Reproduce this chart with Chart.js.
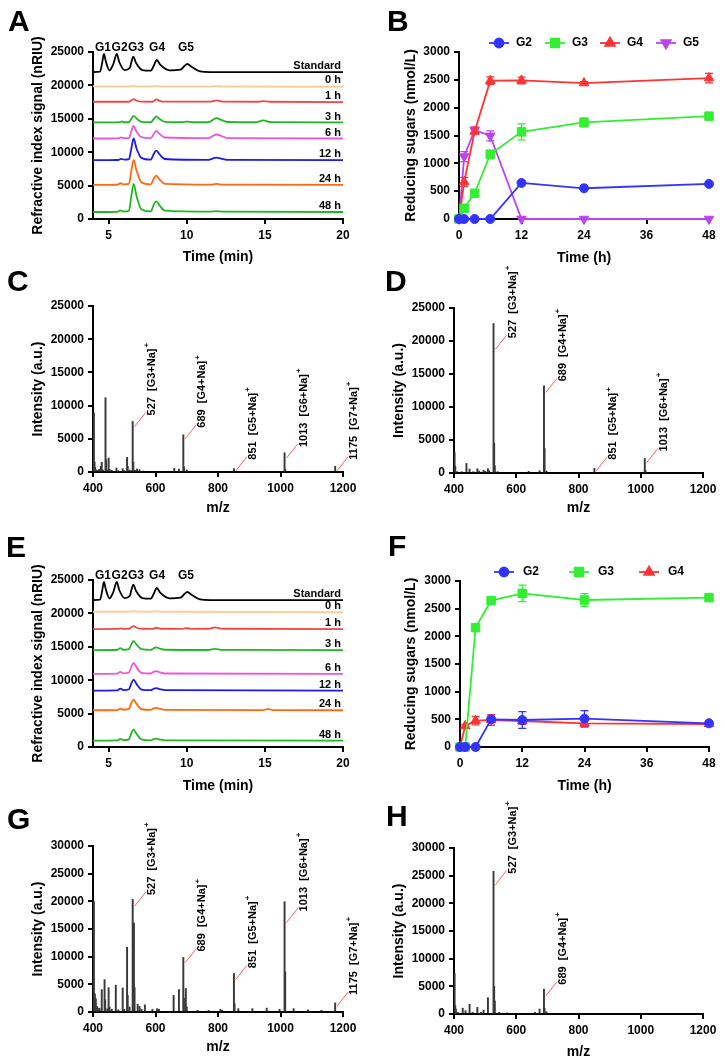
<!DOCTYPE html>
<html>
<head>
<meta charset="utf-8">
<script src="https://cdn.jsdelivr.net/npm/chart.js@4.4.1/dist/chart.umd.min.js"></script>
<style>
body{margin:0;background:#fff;width:725px;height:1064px;position:relative;overflow:hidden;font-family:Arial,"Liberation Sans",sans-serif}
canvas{position:absolute}
.lt{position:absolute;font-weight:bold;font-size:30px;line-height:30px;color:#000}
</style>
</head>
<body>
<canvas id="cA"></canvas><canvas id="cB"></canvas>
<canvas id="cC"></canvas><canvas id="cD"></canvas>
<canvas id="cE"></canvas><canvas id="cF"></canvas>
<canvas id="cG"></canvas><canvas id="cH"></canvas>
<div class="lt" style="left:8px;top:6px">A</div>
<div class="lt" style="left:387px;top:6px">B</div>
<div class="lt" style="left:7px;top:266px">C</div>
<div class="lt" style="left:385px;top:266px">D</div>
<div class="lt" style="left:6px;top:532px">E</div>
<div class="lt" style="left:388px;top:531px">F</div>
<div class="lt" style="left:7px;top:804px">G</div>
<div class="lt" style="left:386px;top:801px">H</div>
<script>
// ---- chromatograms (A, E) ----
const traceNames = ['Standard', '0 h', '1 h', '3 h', '6 h', '12 h', '24 h', '48 h'];
const traceColors = ['#000000', '#FFCC99', '#F04848', '#22B722', '#EE55DD', '#1A1AEE', '#FF6A10', '#22B722'];
const peakNames = ['G1', 'G2', 'G3', 'G4', 'G5'];
const peakPos = [4.64, 5.70, 6.75, 8.10, 9.95];
const chromXTicks = [5, 10, 15, 20];
const chromYTicks = [0, 5000, 10000, 15000, 20000, 25000];

const stdTrace = [[4,22000],[4.45,22050],[4.58,23300],[4.7,24700],[4.82,23600],[5.05,22250],[5.3,23200],[5.52,24700],[5.68,23500],[6.02,22300],[6.35,22600],[6.47,23600],[6.58,24300],[6.75,23400],[7.15,22300],[7.7,22200],[7.9,23000],[8.08,23800],[8.3,23100],[8.9,22250],[9.6,22350],[9.85,22900],[10.03,23200],[10.3,22800],[10.85,22100],[11.5,22000],[20,22000]];

const a0h = [[4,19850],[6.3,19850],[6.6,19950],[6.9,19860],[7.8,19850],[8.05,19930],[8.4,19850],[11.6,19850],[11.9,19900],[12.3,19850],[20,19800]];
const a1h = [[4,17550],[6.3,17550],[6.45,17750],[6.6,17950],[6.8,17700],[7.1,17560],[7.8,17550],[7.95,17750],[8.05,17900],[8.25,17700],[8.6,17560],[11.5,17560],[11.9,17750],[12.4,17560],[14.6,17550],[14.9,17650],[15.3,17550],[20,17500]];
const a3h = [[4,14450],[5.7,14500],[5.85,14600],[6.0,14480],[6.3,14480],[6.45,15000],[6.6,15450],[6.78,15050],[7.1,14550],[7.7,14480],[7.88,14950],[8.05,15350],[8.25,15000],[8.6,14550],[9.7,14480],[10.0,14580],[10.4,14480],[11.4,14480],[11.65,14800],[11.9,15100],[12.2,14850],[12.6,14520],[14.4,14480],[14.9,14750],[15.4,14500],[20,14450]];
const a6h = [[4,12050],[5.6,12080],[5.8,12200],[6.0,12100],[6.3,12120],[6.45,13100],[6.6,13950],[6.78,13100],[7.1,12250],[7.7,12100],[7.88,12700],[8.05,13200],[8.25,12750],[8.6,12200],[11.4,12100],[11.65,12400],[11.9,12650],[12.2,12450],[12.6,12120],[20,12050]];
const a12h = [[4,8800],[5.6,8830],[5.8,9000],[6.0,8880],[6.3,8950],[6.45,10500],[6.6,12050],[6.78,10600],[7.1,9150],[7.7,8880],[7.88,9700],[8.05,10250],[8.25,9700],[8.6,8980],[11.4,8850],[11.65,9050],[11.9,9200],[12.2,9050],[12.6,8850],[20,8800]];
const a24h = [[4,5100],[5.55,5130],[5.75,5350],[5.95,5180],[6.3,5250],[6.45,7200],[6.6,8850],[6.78,7300],[7.1,5500],[7.7,5180],[7.88,6000],[8.05,6500],[8.25,5950],[8.6,5250],[11.5,5150],[11.9,5250],[12.3,5150],[20,5100]];
const a48h = [[4,1050],[5.55,1080],[5.75,1300],[5.95,1120],[6.3,1200],[6.45,3400],[6.6,5250],[6.78,3500],[7.1,1450],[7.7,1130],[7.88,2100],[8.05,2650],[8.25,2050],[8.6,1250],[11.5,1100],[11.9,1180],[12.3,1100],[20,1050]];
const baseA = [22000, 19850, 17500, 14450, 12050, 8800, 5100, 1050];

const e0h = [[4,20250],[6.3,20250],[6.6,20350],[6.9,20260],[7.8,20250],[8.05,20330],[8.4,20250],[20,20200]];
const e1h = [[4,17650],[5.6,17670],[5.75,17750],[5.95,17680],[6.3,17700],[6.45,17900],[6.6,18100],[6.8,17850],[7.1,17700],[7.8,17680],[8.05,17850],[8.4,17700],[9.7,17680],[9.95,17800],[10.3,17680],[11.4,17700],[11.8,17900],[12.3,17700],[20,17650]];
const e3h = [[4,14500],[5.55,14520],[5.75,14800],[5.95,14560],[6.3,14650],[6.45,15350],[6.6,15900],[6.78,15350],[7.1,14650],[7.7,14550],[7.88,14780],[8.05,14900],[8.25,14750],[8.6,14560],[11.4,14520],[11.8,14700],[12.3,14530],[20,14500]];
const e6h = [[4,10950],[5.55,10980],[5.75,11250],[5.95,11020],[6.3,11150],[6.45,12000],[6.6,12600],[6.78,11950],[7.1,11100],[7.7,11000],[7.88,11250],[8.05,11350],[8.25,11200],[8.6,11000],[20,10950]];
const e12h = [[4,8450],[5.55,8480],[5.75,8750],[5.95,8520],[6.3,8650],[6.45,9500],[6.6,10100],[6.78,9450],[7.1,8600],[7.7,8500],[7.88,8720],[8.05,8800],[8.25,8680],[8.6,8500],[20,8450]];
const e24h = [[4,5500],[5.55,5530],[5.75,5750],[5.95,5580],[6.3,5700],[6.45,6550],[6.6,7100],[6.78,6500],[7.1,5650],[7.7,5560],[7.88,5780],[8.05,5850],[8.25,5740],[8.6,5560],[14.9,5520],[15.2,5700],[15.5,5520],[20,5500]];
const e48h = [[4,950],[5.55,980],[5.75,1200],[5.95,1030],[6.3,1150],[6.45,2050],[6.6,2600],[6.78,2000],[7.1,1150],[7.7,1000],[7.88,1180],[8.05,1250],[8.25,1150],[8.6,1000],[20,950]];
const baseE = [22000, 20250, 17650, 14500, 10950, 8450, 5500, 950];

// ---- reducing sugars (B, F) ----
const timeH = [0, 1, 3, 6, 12, 24, 48];
const kinXTicks = [0, 12, 24, 36, 48];
const kinYTicks = [0, 500, 1000, 1500, 2000, 2500, 3000];
const g2B = [0, 0, 0, 0, 648, 552, 630];
const g3B = [0, 192, 462, 1164, 1566, 1734, 1848];
const g4B = [0, 666, 1572, 2484, 2490, 2442, 2532];
const g5B = [0, 1122, 1602, 1494, 0, 0, 0];
const errG2B = [0, 0, 0, 0, 20, 15, 25];
const errG3B = [0, 20, 25, 40, 144, 80, 25];
const errG4B = [0, 80, 40, 70, 60, 25, 85];
const errG5B = [0, 90, 50, 90, 0, 0, 0];
const g2F = [0, 0, 0, 500, 488, 512, 428];
const g3F = [0, 0, 2157, 2645, 2777, 2657, 2699];
const g4F = [0, 380, 476, 488, 470, 428, 416];
const errG2F = [0, 0, 0, 40, 150, 145, 20];
const errG3F = [0, 0, 30, 40, 150, 115, 25];
const errG4F = [0, 30, 75, 95, 60, 70, 20];

// ---- MALDI spectra (C, D, G, H) ----
const msXTicks = [400, 600, 800, 1000, 1200];
const msYTicks25 = [0, 5000, 10000, 15000, 20000, 25000];
const msYTicks30 = [0, 5000, 10000, 15000, 20000, 25000, 30000];
const mzC = [403,405,407,410,415,420,425,428,432,440,442,446,450,453,460,475,481,495,500,509,511,517,522,527,529,534,541,549,560,660,675,689,691,700,851,1013,1015,1175];
const intC = [8900,1500,700,300,250,400,850,1450,300,11200,1850,300,2100,400,250,600,200,500,200,2200,850,300,200,7600,1500,250,450,350,150,550,450,5600,800,300,500,2900,400,850];
const mzD = [402,404,410,425,440,450,462,475,481,495,500,509,513,527,529,531,540,640,675,689,691,697,851,1013,1015];
const intD = [3100,1000,200,200,1450,600,200,650,300,400,250,650,350,22650,4500,1100,200,250,350,13200,3700,300,700,2200,400];
const mzG = [403,406,409,413,416,421,428,437,439,446,450,453,460,473,481,495,500,509,511,517,527,531,533,543,549,555,566,590,605,611,658,675,689,691,697,700,735,770,808,813,851,853,865,910,956,997,1013,1015,1042,1088,1131,1175];
const intG = [19950,3300,2400,1000,600,700,4050,5850,2200,600,4400,900,500,4850,400,4350,500,11700,3000,900,20350,16100,4400,1400,1000,500,1300,500,600,500,3000,4050,9850,2500,4250,900,300,300,500,300,6950,1500,600,600,700,500,19950,7250,600,400,300,1650];
const mzH = [402,404,406,412,428,437,450,460,475,487,495,509,527,529,531,545,571,660,675,689,691,697];
const intH = [7300,1500,900,300,1050,600,1750,300,1200,300,700,2950,25800,5000,2350,300,200,300,900,4500,1000,400];

const labMzC = [527, 689, 851, 1013, 1175];
const labAtC = [6860, 5010, 200, 2100, 200];
const labTxtC = ['527  [G3+Na]', '689  [G4+Na]', '851  [G5+Na]', '1013  [G6+Na]', '1175  [G7+Na]'];
const labMzD = [527, 689, 851, 1013];
const labAtD = [18760, 12220, 350, 1600];
const labTxtD = ['527  [G3+Na]', '689  [G4+Na]', '851  [G5+Na]', '1013  [G6+Na]'];
const labMzG = [527, 689, 851, 1013, 1175];
const labAtG = [19150, 8940, 5920, 16190, 1090];
const labTxtG = ['527  [G3+Na]', '689  [G4+Na]', '851  [G5+Na]', '1013  [G6+Na]', '1175  [G7+Na]'];
const labMzH = [527, 689];
const labAtH = [23380, 3300];
const labTxtH = ['527  [G3+Na]', '689  [G4+Na]'];

const FONT = 'Arial, "Liberation Sans", sans-serif';
Chart.defaults.font.family = FONT;
Chart.defaults.font.weight = 'bold';
Chart.defaults.font.size = 12;
Chart.defaults.color = '#000';

// panel boxes in page pixels
function frame(id, cell, plot, ytx, xty) {
  const c = document.getElementById(id);
  c.width = cell.w; c.height = cell.h;
  c.style.left = cell.x + 'px'; c.style.top = cell.y + 'px';
  return {
    canvas: c,
    padding: {left: 0, top: plot.t - cell.y, right: cell.x + cell.w - plot.r, bottom: 0},
    yw: plot.l - cell.x,
    xh: cell.y + cell.h - plot.b,
    ytp: ytx - cell.x - 8.4,
    xtp: cell.y + cell.h - xty - 8.4
  };
}

function axis(min, max, ticks, title, size, tpad, horiz) {
  return {
    type: 'linear', min: min, max: max, offset: false,
    afterBuildTicks: s => { s.ticks = ticks.map(v => ({value: v})); },
    afterFit: s => { if (horiz) s.height = size; else s.width = size; },
    grid: {display: true, drawOnChartArea: false, drawTicks: true, tickLength: 5, tickWidth: 2, tickColor: '#000', color: '#000', lineWidth: 2, offset: false},
    border: {display: true, width: 2, color: '#000'},
    ticks: {autoSkip: false, maxRotation: 0, padding: 4, color: '#000', font: {size: 12, weight: 'bold'}, callback: v => String(v)},
    title: {display: true, text: title, color: '#000', font: {size: 14, weight: 'bold'},
      padding: horiz ? {top: 0, bottom: tpad} : {top: tpad, bottom: 0}}
  };
}

function baseOptions(f, xs, ys) {
  return {
    responsive: false, animation: false, devicePixelRatio: 1, events: [],
    layout: {padding: f.padding},
    plugins: {legend: {display: false}, tooltip: {enabled: false}},
    scales: {x: xs, y: ys}
  };
}

function chromChart(id, f, traces, bases) {
  const ds = traces.map((t, i) => ({
    data: t.map(p => ({x: p[0], y: p[1]})),
    borderColor: traceColors[i], borderWidth: 1.8, pointRadius: 0,
    cubicInterpolationMode: 'monotone', fill: false
  }));
  const labels = {
    id: 'chromLabels',
    afterDraw(chart) {
      const {ctx, chartArea, scales: {x, y}} = chart;
      ctx.save();
      ctx.fillStyle = '#000';
      ctx.font = 'bold 12px ' + FONT;
      ctx.textAlign = 'center'; ctx.textBaseline = 'middle';
      peakNames.forEach((n, i) => ctx.fillText(n, x.getPixelForValue(peakPos[i]), chartArea.top - 4));
      ctx.font = 'bold 11px ' + FONT;
      ctx.textAlign = 'right';
      traceNames.forEach((n, i) => ctx.fillText(n, chartArea.right - 2, y.getPixelForValue(bases[i]) - 6));
      ctx.restore();
    }
  };
  new Chart(f.canvas, {
    type: 'line',
    data: {datasets: ds},
    options: baseOptions(f,
      axis(4, 20, chromXTicks, 'Time (min)', f.xh, f.xtp, true),
      axis(0, 25000, chromYTicks, 'Refractive index signal (nRIU)', f.yw, f.ytp, false)),
    plugins: [labels]
  });
}

const kinNames = ['G2', 'G3', 'G4', 'G5'];
const kinColors = ['#3333FF', '#33EE33', '#FF3333', '#BB44EE'];
const kinMarks = [
  {pointStyle: 'circle', radius: 4.5, rotation: 0},
  {pointStyle: 'rect', radius: 6, rotation: 0},
  {pointStyle: 'triangle', radius: 5.5, rotation: 0},
  {pointStyle: 'triangle', radius: 5.5, rotation: 180}
];

function kinChart(id, f, vals, errs, legX, legY) {
  const ds = vals.map((v, i) => ({
    data: v.map((y, j) => ({x: timeH[j], y: y})),
    borderColor: kinColors[i], backgroundColor: kinColors[i],
    borderWidth: 1.8, tension: 0, clip: false,
    pointStyle: kinMarks[i].pointStyle, pointRadius: kinMarks[i].radius,
    pointRotation: kinMarks[i].rotation, pointBorderWidth: 1
  }));
  const extras = {
    id: 'kinExtras',
    beforeDatasetsDraw(chart) {
      const {ctx, scales: {x, y}} = chart;
      ctx.save();
      ctx.lineWidth = 1.3;
      errs.forEach((e, i) => {
        ctx.strokeStyle = kinColors[i];
        e.forEach((d, j) => {
          if (!d) return;
          const px = x.getPixelForValue(timeH[j]);
          const hi = y.getPixelForValue(vals[i][j] + d), lo = y.getPixelForValue(vals[i][j] - d);
          ctx.beginPath();
          ctx.moveTo(px, hi); ctx.lineTo(px, lo);
          ctx.moveTo(px - 4, hi); ctx.lineTo(px + 4, hi);
          ctx.moveTo(px - 4, lo); ctx.lineTo(px + 4, lo);
          ctx.stroke();
        });
      });
      ctx.restore();
    },
    afterDraw(chart) {
      const ctx = chart.ctx;
      ctx.save();
      vals.forEach((v, i) => {
        const cx = legX[i];
        ctx.strokeStyle = kinColors[i]; ctx.fillStyle = kinColors[i]; ctx.lineWidth = 1.8;
        ctx.beginPath(); ctx.moveTo(cx - 10, legY); ctx.lineTo(cx + 10, legY); ctx.stroke();
        Chart.helpers.drawPoint(ctx, {pointStyle: kinMarks[i].pointStyle, radius: kinMarks[i].radius, rotation: kinMarks[i].rotation, borderWidth: 1}, cx, legY);
        ctx.fillStyle = '#000';
        ctx.font = 'bold 12px ' + FONT; ctx.textAlign = 'left'; ctx.textBaseline = 'middle';
        ctx.fillText(kinNames[i], cx + 17 + (vals.length === 3 ? 2 : 0), legY);
      });
      ctx.restore();
    }
  };
  new Chart(f.canvas, {
    type: 'line',
    data: {datasets: ds},
    options: baseOptions(f,
      axis(0, 48, kinXTicks, 'Time (h)', f.xh, f.xtp, true),
      axis(0, 3000, kinYTicks, 'Reducing sugars (nmol/L)', f.yw, f.ytp, false)),
    plugins: [extras]
  });
}

function msChart(id, f, mz, inten, yMax, yTicks, labMz, labAt, labTxt) {
  const labels = {
    id: 'msLabels',
    afterDatasetsDraw(chart) {
      const {ctx, scales: {x, y}} = chart;
      ctx.save();
      labMz.forEach((m, i) => {
        const px = x.getPixelForValue(m), py = y.getPixelForValue(labAt[i]);
        ctx.strokeStyle = '#ff5c5c'; ctx.lineWidth = 1;
        ctx.beginPath(); ctx.moveTo(px + 2, py); ctx.lineTo(px + 13, py - 14); ctx.stroke();
        ctx.save();
        ctx.translate(px + 19, py - 11);
        ctx.rotate(-Math.PI / 2);
        ctx.fillStyle = '#000';
        ctx.font = 'bold 11px ' + FONT; ctx.textAlign = 'left'; ctx.textBaseline = 'middle';
        ctx.fillText(labTxt[i], 0, 0);
        const w = ctx.measureText(labTxt[i]).width;
        ctx.font = 'bold 8px ' + FONT;
        ctx.fillText('+', w + 1, -5);
        ctx.restore();
      });
      ctx.restore();
    }
  };
  new Chart(f.canvas, {
    type: 'bar',
    data: {datasets: [{
      data: mz.map((m, i) => ({x: m, y: inten[i]})),
      backgroundColor: '#3a3a3a', borderWidth: 0, barThickness: 1.3, grouped: false
    }]},
    options: baseOptions(f,
      axis(400, 1200, msXTicks, 'm/z', f.xh, f.xtp, true),
      axis(0, yMax, yTicks, 'Intensity (a.u.)', f.yw, f.ytp, false)),
    plugins: [labels]
  });
}

const fA = frame('cA', {x: 0, y: 0, w: 362, h: 272}, {l: 93, t: 52, r: 343, b: 219}, 38, 257);
const fB = frame('cB', {x: 362, y: 0, w: 363, h: 272}, {l: 459, t: 52, r: 709, b: 219}, 411, 258);
const fC = frame('cC', {x: 0, y: 250, w: 362, h: 272}, {l: 93, t: 306, r: 343, b: 472}, 38, 508);
const fD = frame('cD', {x: 362, y: 240, w: 363, h: 282}, {l: 454, t: 308, r: 703, b: 473}, 399, 508);
const fE = frame('cE', {x: 0, y: 520, w: 362, h: 278}, {l: 93, t: 580, r: 343, b: 747}, 38, 786);
const fF = frame('cF', {x: 362, y: 520, w: 363, h: 278}, {l: 460, t: 581, r: 709, b: 747}, 411, 786);
const fG = frame('cG', {x: 0, y: 780, w: 362, h: 284}, {l: 93, t: 846, r: 343, b: 1012}, 38, 1047);
const fH = frame('cH', {x: 362, y: 780, w: 363, h: 284}, {l: 454, t: 848, r: 703, b: 1014}, 399, 1052);

chromChart('cA', fA, [stdTrace, a0h, a1h, a3h, a6h, a12h, a24h, a48h], baseA);
kinChart('cB', fB, [g2B, g3B, g4B, g5B], [errG2B, errG3B, errG4B, errG5B], [137, 193, 248, 304], 43);
msChart('cC', fC, mzC, intC, 25000, msYTicks25, labMzC, labAtC, labTxtC);
msChart('cD', fD, mzD, intD, 25000, msYTicks25, labMzD, labAtD, labTxtD);
chromChart('cE', fE, [stdTrace, e0h, e1h, e3h, e6h, e12h, e24h, e48h], baseE);
kinChart('cF', fF, [g2F, g3F, g4F], [errG2F, errG3F, errG4F], [142, 217, 287], 52);
msChart('cG', fG, mzG, intG, 30000, msYTicks30, labMzG, labAtG, labTxtG);
msChart('cH', fH, mzH, intH, 30000, msYTicks30, labMzH, labAtH, labTxtH);
</script>
</body>
</html>
